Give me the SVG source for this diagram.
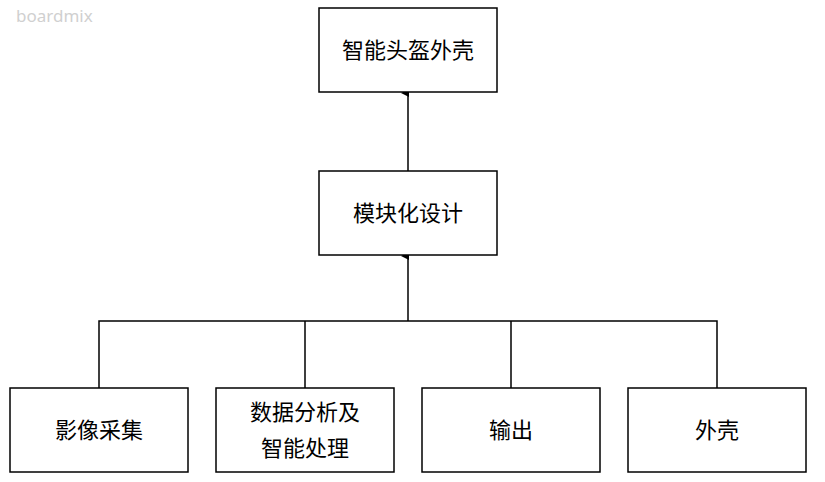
<svg xmlns="http://www.w3.org/2000/svg" width="825" height="482" viewBox="0 0 825 482">
<style>
.b{fill:#fff;stroke:#000;stroke-width:1.5}
.t{font-family:"Noto Sans CJK SC","Noto Sans",sans-serif;font-size:22px;fill:#000;text-anchor:middle}
.w{font-family:"Noto Sans",sans-serif;font-size:17px;fill:#d0d0d0}
.c{stroke:#000;stroke-width:1.5;fill:none}
</style>
<defs><marker id="a" markerWidth="8" markerHeight="8" refX="4" refY="7" orient="auto-start-reverse" markerUnits="userSpaceOnUse"><path d="M0,8 L4,0 L8,8 Z" fill="#000"/></marker></defs>
<rect width="825" height="482" fill="#fff"/>
<text class="w" x="16" y="22">boardmix</text>
<text class="w" x="714" y="472">boardmix</text>
<g id="connectors">
<path class="c" d="M99,388 V321 H717 V388 M305,388 V321 M511,388 V321"/>
<path class="c" d="M408,321 V256" marker-end="url(#a)"/>
<path class="c" d="M408,171 V93" marker-end="url(#a)"/>
</g>
<g id="n1"><rect class="b" x="319" y="8" width="178" height="84"/><text class="t" x="408" y="58">智能头盔外壳</text></g>
<g id="n2"><rect class="b" x="319" y="171" width="178" height="84"/><text class="t" x="408" y="221">模块化设计</text></g>
<g id="n3"><rect class="b" x="10" y="388" width="178" height="84"/><text class="t" x="99" y="438">影像采集</text></g>
<g id="n4"><rect class="b" x="216" y="388" width="178" height="84"/><text class="t" x="305" y="420">数据分析及</text><text class="t" x="305" y="456">智能处理</text></g>
<g id="n5"><rect class="b" x="422" y="388" width="178" height="84"/><text class="t" x="511" y="438">输出</text></g>
<g id="n6"><rect class="b" x="628" y="388" width="178" height="84"/><text class="t" x="717" y="438">外壳</text></g>
</svg>
